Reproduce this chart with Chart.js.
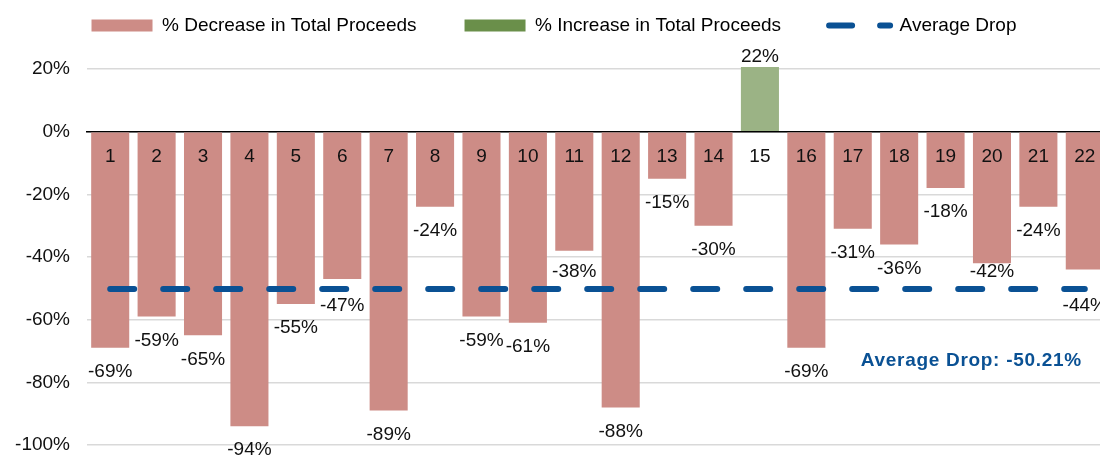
<!DOCTYPE html>
<html>
<head>
<meta charset="utf-8">
<script src="https://cdn.jsdelivr.net/npm/chart.js@4/dist/chart.umd.min.js"></script>
<style>
  html, body { margin: 0; padding: 0; background: #fff; overflow: hidden; }
  #wrap { width: 1110px; height: 458px; }
</style>
</head>
<body>
<div id="wrap"><canvas id="chart"></canvas></div>
<script>
// Proceeds change per deal, in percent
const categories = ['1', '2', '3', '4', '5', '6', '7', '8', '9', '10', '11',
  '12', '13', '14', '15', '16', '17', '18', '19', '20', '21', '22'];
const decreaseValues = [-69, -59, -65, -94, -55, -47, -89, -24, -59, -61, -38,
  -88, -15, -30, null, -69, -31, -36, -18, -42, -24, -44];
const increaseValues = [null, null, null, null, null, null, null, null, null, null, null,
  null, null, null, 22, null, null, null, null, null, null, null];
const averageDrop = -50.21;
const yTicks = [20, 0, -20, -40, -60, -80, -100];

const FONT = "'Liberation Sans', Arial, sans-serif";
const PINK = '#cd8c86';
const GREEN_BAR = '#9bb385';
const GREEN_KEY = '#6a8f4a';
const BLUE = '#0a5194';

Chart.defaults.font.family = FONT;
Chart.defaults.font.size = 19;
Chart.defaults.color = '#111';

// legend sits tight to the top but items need wide gaps, so pin its height
const legendHeight = {
  id: 'legendHeight',
  beforeInit(chart) {
    const fit = chart.legend.fit;
    chart.legend.fit = function () {
      fit.bind(chart.legend)();
      this.height = 101;
    };
  },
};

const barLabels = {
  id: 'barLabels',
  afterDatasetsDraw(chart) {
    const { ctx, chartArea } = chart;
    const avgY = chart.scales.y.getPixelForValue(averageDrop);
    ctx.save();
    ctx.font = `19px ${FONT}`;
    ctx.fillStyle = '#111';
    ctx.textAlign = 'center';
    ctx.textBaseline = 'middle';
    [0, 1].forEach((di) => {
      const meta = chart.getDatasetMeta(di);
      meta.data.forEach((bar, i) => {
        const v = chart.data.datasets[di].data[i];
        if (v === null || v === undefined) return;
        let y;
        if (v < 0) {
          y = bar.y + 24;
          // keep labels off the dashed average line
          if (Math.abs(y - avgY) < 16) y = bar.y < avgY - 20 ? avgY - 17 : avgY + 17;
        } else {
          y = Math.max(bar.y, chartArea.top - 2) - 10;
        }
        ctx.fillText(Math.round(v) + '%', bar.x, y);
      });
    });

    // average note, bottom right
    const x = chart.scales.x.getPixelForValue(categories.length - 1) - 3;
    const y = chart.scales.y.getPixelForValue(-73);
    ctx.font = `bold 19px ${FONT}`;
    ctx.letterSpacing = '0.7px';
    ctx.fillStyle = BLUE;
    ctx.textAlign = 'right';
    ctx.fillText('Average Drop: ' + averageDrop.toFixed(2) + '%', x, y);
    ctx.restore();
  },
};

new Chart(document.getElementById('chart'), {
  type: 'bar',
  data: {
    labels: categories,
    datasets: [
      {
        label: '% Decrease in Total Proceeds',
        data: decreaseValues,
        backgroundColor: PINK,
        grouped: false,
        categoryPercentage: 1,
        barPercentage: 0.82,
        order: 1,
      },
      {
        label: '% Increase in Total Proceeds',
        data: increaseValues,
        backgroundColor: GREEN_BAR,
        grouped: false,
        categoryPercentage: 1,
        barPercentage: 0.82,
        clip: 2,
        order: 1,
      },
      {
        type: 'line',
        label: 'Average Drop',
        data: categories.map(() => averageDrop),
        borderColor: BLUE,
        borderWidth: 6,
        borderDash: [24, 29],
        borderCapStyle: 'round',
        pointRadius: 0,
        fill: false,
        order: 0,
      },
    ],
  },
  options: {
    responsive: true,
    maintainAspectRatio: false,
    animation: false,
    layout: { padding: { top: -32, right: 2, bottom: 13, left: 0 } },
    scales: {
      x: {
        position: { y: 0 },
        afterFit: (scale) => { scale.height = 0; },
        grid: { display: false },
        border: { display: true, color: '#000', width: 1.5 },
        ticks: { z: 1, padding: 6, color: '#111', maxRotation: 0, autoSkip: false },
      },
      y: {
        min: -100,
        max: 20,
        afterFit: (scale) => {
          scale.width = 87;
          scale.paddingTop = 0;
          scale.paddingBottom = 0;
        },
        afterBuildTicks: (scale) => { scale.ticks = yTicks.map((v) => ({ value: v })); },
        grid: { color: '#d9d9d9', lineWidth: 1.5, drawTicks: false },
        border: { display: false },
        ticks: { padding: 17, callback: (v) => v + '%' },
      },
    },
    plugins: {
      tooltip: { enabled: false },
      legend: {
        position: 'top',
        labels: {
          padding: 48,
          usePointStyle: true,
          pointStyleWidth: 61,
          boxHeight: 12,
          color: '#111',
          generateLabels: (chart) => chart.data.datasets.map((ds, i) => {
            if (ds.type === 'line') {
              return {
                text: ds.label, datasetIndex: i, pointStyle: 'line',
                fillStyle: 'transparent', strokeStyle: BLUE, lineWidth: 6,
                lineDash: [23, 28], lineCap: 'round',
              };
            }
            return {
              text: ds.label, datasetIndex: i, pointStyle: 'rect',
              fillStyle: i === 1 ? GREEN_KEY : PINK, strokeStyle: 'transparent', lineWidth: 0,
            };
          }),
        },
      },
    },
  },
  plugins: [legendHeight, barLabels],
});
</script>
</body>
</html>
